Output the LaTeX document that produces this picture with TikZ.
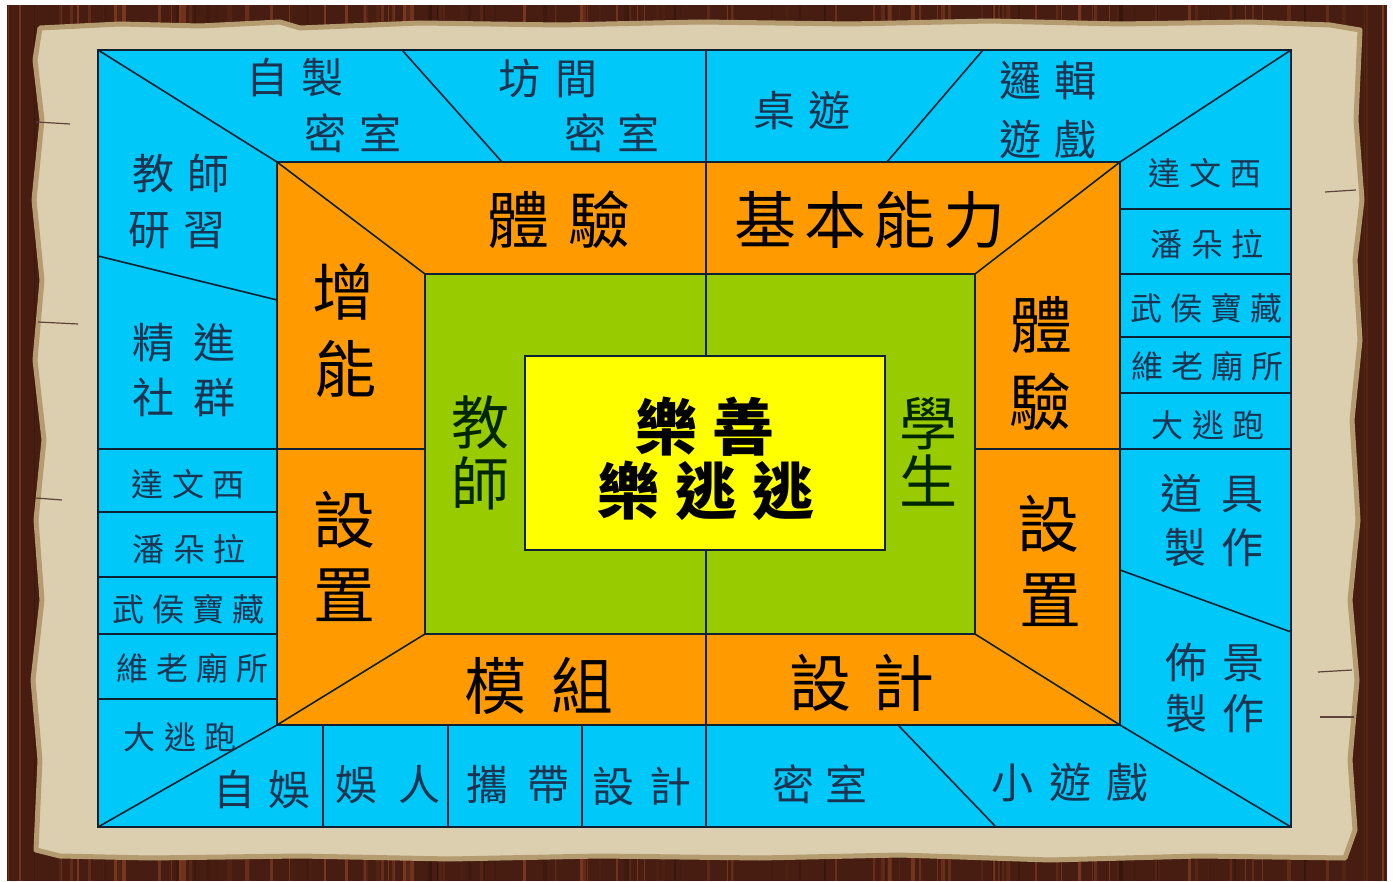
\documentclass[tikz,border=0pt]{standalone}
\usepackage{fontspec}
\setmainfont{Noto Sans CJK TC}
\newcommand\chgap[1][.3em]{\hspace{#1}}
\definecolor{woodD}{HTML}{34140A}
\definecolor{woodL}{HTML}{7A3820}
\definecolor{parchL}{HTML}{DCCFAF}
\definecolor{parchD}{HTML}{B49C70}
\definecolor{cellblue}{HTML}{00C8F8}
\definecolor{cellorange}{HTML}{FF9A00}
\definecolor{cellgreen}{HTML}{99CC00}
\definecolor{cellyellow}{HTML}{FFFF00}
\definecolor{bluetxt}{HTML}{1A3350}
\definecolor{edge}{HTML}{0E2233}
\tikzset{
  bL/.style={text=bluetxt, font=\fontsize{42}{46}\selectfont, inner sep=0pt},
  bS/.style={text=bluetxt, font=\fontsize{32}{35}\selectfont, inner sep=0pt},
  oL/.style={text=black, font=\fontsize{62}{66}\selectfont, inner sep=0pt},
  gL/.style={text=black!85!green, font=\fontsize{58}{62}\selectfont, inner sep=0pt},
  yL/.style={text=black, font=\fontsize{62}{66}\selectfont\bfseries, inner sep=0pt},
  sep/.style={draw=edge, line width=1.6pt},
}
\begin{document}
\begin{tikzpicture}[x=1pt,y=-1pt]
\useasboundingbox (0,0) rectangle (1393,882);
\fill[white] (0,0) rectangle (1393,882);
% wood
\fill[woodD!75!woodL] (7,5) rectangle (1387,881);
\pgfmathsetseed{7}
\foreach \i in {1,...,160}{
  \pgfmathsetmacro\xx{8+rnd*1377}
  \pgfmathsetmacro\ww{0.5+rnd*3.5}
  \pgfmathsetmacro\cc{rnd*100}
  \draw[line width=\ww pt, color=woodL!\cc!woodD] (\xx,5) -- (\xx,881);
}
% parchment
\filldraw[fill=parchL, draw=parchD, line width=5pt, line join=round]
 (40,28) -- (120,24) -- (200,26) -- (280,22) -- (300,28) -- (420,23) -- (560,25) -- (700,22) -- (850,24) -- (990,21) -- (1120,24) -- (1250,22) -- (1330,25) -- (1360,30) -- (1356,120) -- (1362,200) -- (1355,260) -- (1360,340) -- (1352,420) -- (1358,520) -- (1350,600) -- (1357,680) -- (1350,760) -- (1355,830) -- (1345,858) -- (1200,856) -- (1050,860) -- (900,855) -- (760,858) -- (600,856) -- (450,859) -- (300,856) -- (150,858) -- (60,856) -- (36,850) -- (40,760) -- (33,680) -- (42,600) -- (36,520) -- (44,440) -- (35,360) -- (42,280) -- (34,200) -- (42,120) -- (35,60) -- cycle;
% cracks
\draw[woodD!80, line width=1.2pt] (36,122) -- (70,124);
\draw[woodD!80, line width=1.2pt] (38,322) -- (78,324);
\draw[woodD!80, line width=1.2pt] (36,498) -- (62,500);
\draw[woodD!80, line width=1.2pt] (1356,190) -- (1325,192);
\draw[woodD!80, line width=1.2pt] (1352,670) -- (1318,672);
\draw[woodD!80, line width=1.2pt] (1354,717) -- (1320,717);

% main coordinates
\coordinate (B1) at (98,50);   \coordinate (B2) at (1291,50);
\coordinate (B3) at (1291,827); \coordinate (B4) at (98,827);
\coordinate (O1) at (277,162); \coordinate (O2) at (1120,162);
\coordinate (O3) at (1120,725); \coordinate (O4) at (277,725);
\coordinate (G1) at (425,274); \coordinate (G2) at (975,274);
\coordinate (G3) at (975,634); \coordinate (G4) at (425,634);

\fill[cellblue] (B1) rectangle (B3);
\fill[cellorange] (O1) rectangle (O3);
\fill[cellgreen] (G1) rectangle (G3);

% separators
\draw[sep] (B1) -- (O1) -- (G1);
\draw[sep] (B2) -- (O2) -- (G2);
\draw[sep] (B3) -- (O3) -- (G3);
\draw[sep] (B4) -- (O4) -- (G4);
\draw[sep] (706,50) -- (706,827);
\draw[sep] (98,449) -- (425,449);
\draw[sep] (975,449) -- (1291,449);
\draw[sep] (402,50) -- (502,162);
\draw[sep] (887,162) -- (983,50);
\draw[sep] (898,725) -- (996,827);
\draw[sep] (323,725) -- (323,827);
\draw[sep] (448,725) -- (448,827);
\draw[sep] (582,725) -- (582,827);
\draw[sep] (98,256) -- (277,300);
\foreach \yy in {512,577,634,699} \draw[sep] (98,\yy) -- (277,\yy);
\foreach \yy in {209,274,337,393} \draw[sep] (1120,\yy) -- (1291,\yy);
\draw[sep] (1120,570) -- (1291,632);
\draw[sep] (O1) rectangle (O3);
\draw[sep] (G1) rectangle (G3);
\draw[sep] (B1) rectangle (B3);
\node[sep, fill=cellyellow, minimum width=360pt, minimum height=194pt, inner sep=0pt] (core) at (705,453) {};

% blue labels
\node[bL] (t1a) at (295,78) {自\chgap 製};
\node[bL] (t1b) at (353,133) {密\chgap[.3em]室};
\node[bL] (t2a) at (548,78) {坊\chgap[.38em]間};
\node[bL] (t2b) at (612,133) {密\chgap[.27em]室};
\node[bL] (t3) at (802,110) {桌\chgap[.33em]遊};
\node[bL] (t4a) at (1048,81) {邏\chgap[.3em]輯};
\node[bL] (t4b) at (1048,139) {遊\chgap[.3em]戲};
\node[bL] (t5a) at (181,174) {教\chgap[.3em]師};
\node[bL] (t5b) at (177,231) {研\chgap[.3em]習};
\node[bL] (t6a) at (184,343) {精\chgap[.45em]進};
\node[bL] (t6b) at (184,397) {社\chgap[.45em]群};
\node[bL] (t7a) at (1212,494) {道\chgap[.45em]具};
\node[bL] (t7b) at (1214,548) {製\chgap[.38em]作};
\node[bL] (t8a) at (1215,662) {佈\chgap[.38em]景};
\node[bL] (t8b) at (1215,714) {製\chgap[.38em]作};
\node[bL] (t9) at (262,790) {自\chgap 娛};
\node[bL] (t10) at (388,785) {娛\chgap[.5em]人};
\node[bL] (t11) at (518,784) {攜\chgap[.45em]帶};
\node[bL] (t12) at (642,786) {設\chgap[.35em]計};
\node[bL] (t13) at (820,784) {密\chgap[.28em]室};
\node[bL] (t14) at (1070,782) {小\chgap[.36em]遊\chgap[.36em]戲};

\node[bS] (r1) at (1205,173) {達\chgap[.27em]文\chgap[.27em]西};
\node[bS] (r2) at (1207,244) {潘\chgap[.27em]朵\chgap[.27em]拉};
\node[bS] (r3) at (1206,308) {武\chgap[.25em]侯\chgap[.25em]寶\chgap[.25em]藏};
\node[bS] (r4) at (1207,366) {維\chgap[.25em]老\chgap[.25em]廟\chgap[.25em]所};
\node[bS] (r5) at (1208,425) {大\chgap[.27em]逃\chgap[.27em]跑};
\node[bS] (l1) at (188,484) {達\chgap[.27em]文\chgap[.27em]西};
\node[bS] (l2) at (189,549) {潘\chgap[.27em]朵\chgap[.27em]拉};
\node[bS] (l3) at (188,609) {武\chgap[.25em]侯\chgap[.25em]寶\chgap[.25em]藏};
\node[bS] (l4) at (192,668) {維\chgap[.25em]老\chgap[.25em]廟\chgap[.25em]所};
\node[bS] (l5) at (180,737) {大\chgap[.27em]逃\chgap[.27em]跑};

% orange labels
\node[oL] (o1) at (559,220) {體\chgap[.3em]驗};
\node[oL] (o2) at (870,220) {基\chgap[.12em]本\chgap[.12em]能\chgap[.12em]力};
\node[oL] (o3a) at (343,292) {增};
\node[oL] (o3b) at (345,369) {能};
\node[oL] (o4a) at (344,520) {設};
\node[oL] (o4b) at (344,595) {置};
\node[oL] (o5a) at (1041,325) {體};
\node[oL] (o5b) at (1040,402) {驗};
\node[oL] (o6a) at (1048,524) {設};
\node[oL] (o6b) at (1050,600) {置};
\node[oL] (o7) at (539,686) {模\chgap[.4em]組};
\node[oL] (o8) at (862,683) {設\chgap[.35em]計};

% green labels
\node[gL] (g1a) at (480,423) {教};
\node[gL] (g1b) at (480,483) {師};
\node[gL] (g2a) at (928,424) {學};
\node[gL] (g2b) at (928,481) {生};

% centre
\node[yL] (c1) at (705,427) {樂\chgap[.25em]善};
\node[yL] (c2) at (706,491) {樂\chgap[.25em]逃\chgap[.25em]逃};
\end{tikzpicture}
\end{document}
